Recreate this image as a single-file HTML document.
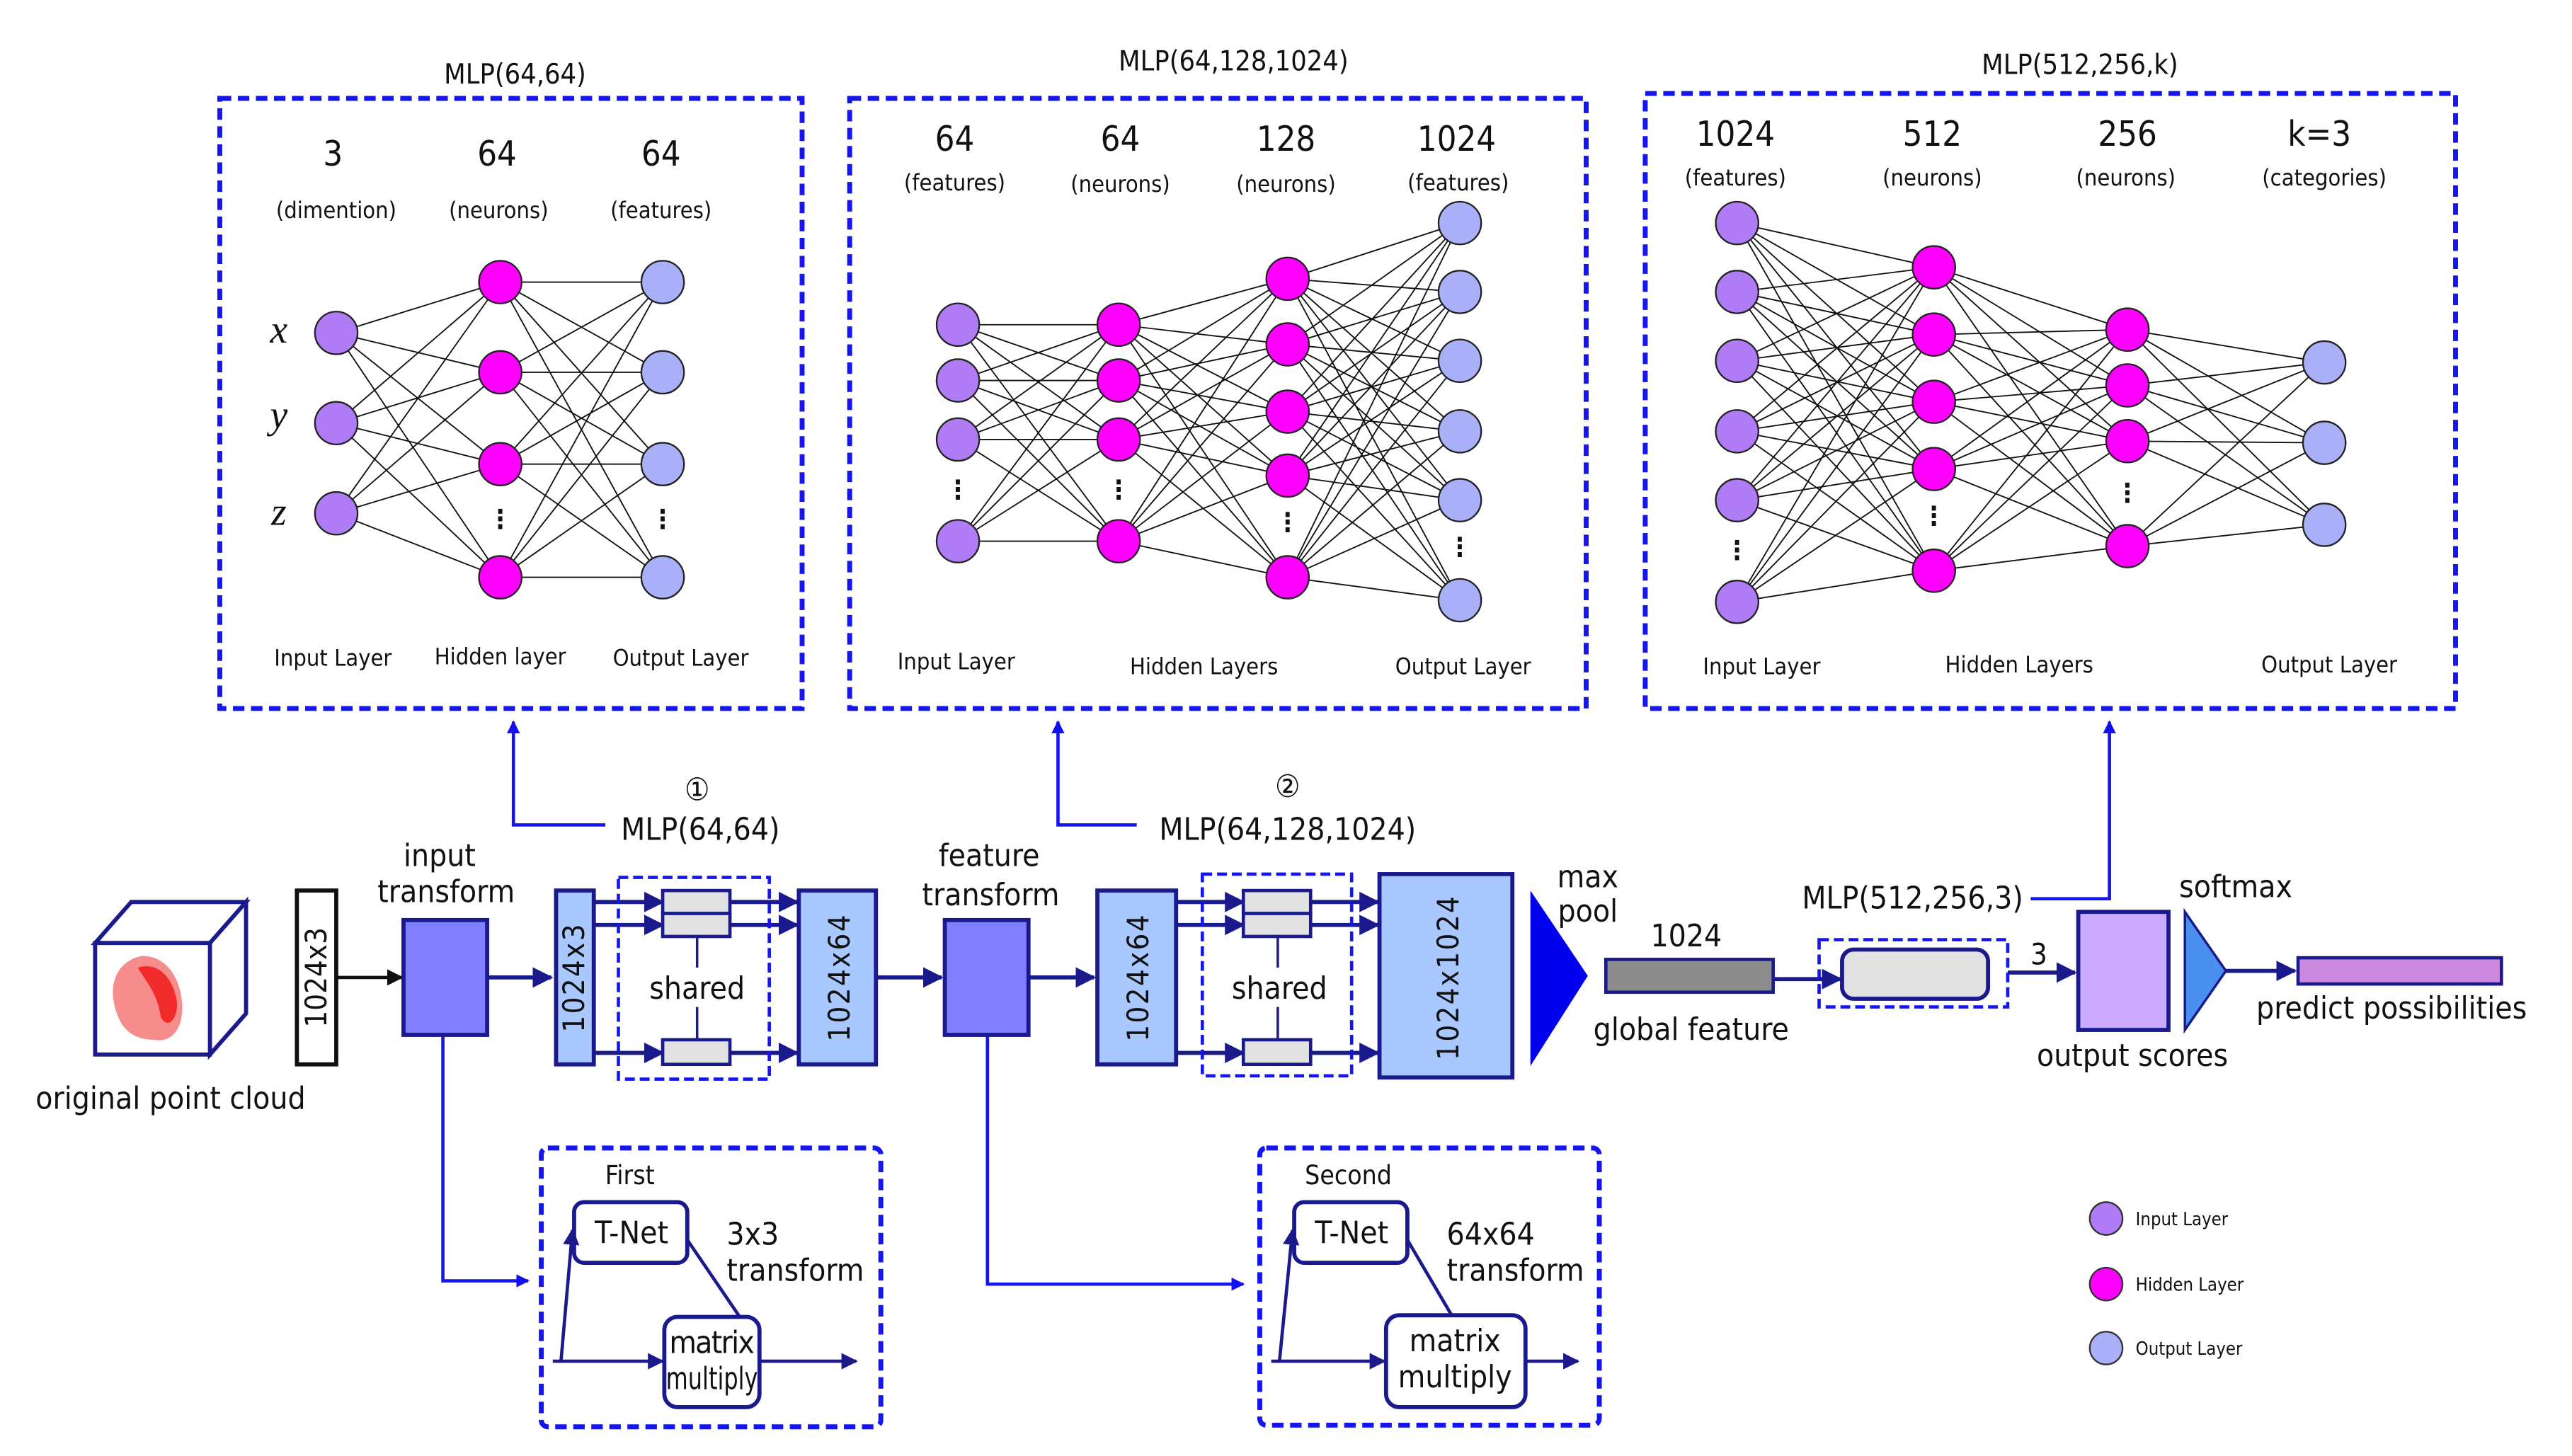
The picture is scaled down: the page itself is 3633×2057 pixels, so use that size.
<!DOCTYPE html>
<html><head><meta charset="utf-8"><style>
html,body{margin:0;padding:0;background:#fff}
svg{display:block}
text{font-family:"DejaVu Sans Condensed","DejaVu Sans","Liberation Sans",sans-serif;fill:#111}
</style></head><body>
<svg width="3633" height="2057" viewBox="0 0 1568 887.8" xmlns="http://www.w3.org/2000/svg">
<defs>
<marker id="an" viewBox="0 0 10 10" refX="9" refY="5" markerWidth="5" markerHeight="5" orient="auto"><path d="M0,0L10,5L0,10z" fill="#1a1a8c"/></marker>
<marker id="ab" viewBox="0 0 10 10" refX="9" refY="5" markerWidth="5" markerHeight="5" orient="auto"><path d="M0,0L10,5L0,10z" fill="#111"/></marker>
<marker id="abl" viewBox="0 0 10 10" refX="9" refY="5" markerWidth="4" markerHeight="4" orient="auto"><path d="M0,0L10,5L0,10z" fill="#1010f0"/></marker>
</defs>
<g fill="none" stroke="#111" stroke-width="0.8">
<path d="M205 203L305 172M205 203L305 227M205 203L305 283M205 203L305 352M205 258L305 172M205 258L305 227M205 258L305 283M205 258L305 352M205 313L305 172M205 313L305 227M205 313L305 283M205 313L305 352"/>
<path d="M305 172L404 172M305 172L404 227M305 172L404 283M305 172L404 352M305 227L404 172M305 227L404 227M305 227L404 283M305 227L404 352M305 283L404 172M305 283L404 227M305 283L404 283M305 283L404 352M305 352L404 172M305 352L404 227M305 352L404 283M305 352L404 352"/>
<path d="M584 198L682 198M584 198L682 232M584 198L682 268M584 198L682 330M584 232L682 198M584 232L682 232M584 232L682 268M584 232L682 330M584 268L682 198M584 268L682 232M584 268L682 268M584 268L682 330M584 330L682 198M584 330L682 232M584 330L682 268M584 330L682 330"/>
<path d="M682 198L785 170M682 198L785 210M682 198L785 251M682 198L785 290M682 198L785 352M682 232L785 170M682 232L785 210M682 232L785 251M682 232L785 290M682 232L785 352M682 268L785 170M682 268L785 210M682 268L785 251M682 268L785 290M682 268L785 352M682 330L785 170M682 330L785 210M682 330L785 251M682 330L785 290M682 330L785 352"/>
<path d="M785 170L890 136M785 170L890 178M785 170L890 220M785 170L890 263M785 170L890 305M785 170L890 366M785 210L890 136M785 210L890 178M785 210L890 220M785 210L890 263M785 210L890 305M785 210L890 366M785 251L890 136M785 251L890 178M785 251L890 220M785 251L890 263M785 251L890 305M785 251L890 366M785 290L890 136M785 290L890 178M785 290L890 220M785 290L890 263M785 290L890 305M785 290L890 366M785 352L890 136M785 352L890 178M785 352L890 220M785 352L890 263M785 352L890 305M785 352L890 366"/>
<path d="M1059 136L1179 163M1059 136L1179 204M1059 136L1179 245M1059 136L1179 286M1059 136L1179 348M1059 178L1179 163M1059 178L1179 204M1059 178L1179 245M1059 178L1179 286M1059 178L1179 348M1059 220L1179 163M1059 220L1179 204M1059 220L1179 245M1059 220L1179 286M1059 220L1179 348M1059 263L1179 163M1059 263L1179 204M1059 263L1179 245M1059 263L1179 286M1059 263L1179 348M1059 305L1179 163M1059 305L1179 204M1059 305L1179 245M1059 305L1179 286M1059 305L1179 348M1059 367L1179 163M1059 367L1179 204M1059 367L1179 245M1059 367L1179 286M1059 367L1179 348"/>
<path d="M1179 163L1297 201M1179 163L1297 235M1179 163L1297 269M1179 163L1297 333M1179 204L1297 201M1179 204L1297 235M1179 204L1297 269M1179 204L1297 333M1179 245L1297 201M1179 245L1297 235M1179 245L1297 269M1179 245L1297 333M1179 286L1297 201M1179 286L1297 235M1179 286L1297 269M1179 286L1297 333M1179 348L1297 201M1179 348L1297 235M1179 348L1297 269M1179 348L1297 333"/>
<path d="M1297 201L1417 221M1297 201L1417 270M1297 201L1417 320M1297 235L1417 221M1297 235L1417 270M1297 235L1417 320M1297 269L1417 221M1297 269L1417 270M1297 269L1417 320M1297 333L1417 221M1297 333L1417 270M1297 333L1417 320"/>
</g>
<g stroke="#222" stroke-width="1">
<g fill="#b07cf5">
<circle cx="205" cy="203" r="13"/><circle cx="205" cy="258" r="13"/><circle cx="205" cy="313" r="13"/>
<circle cx="584" cy="198" r="13"/><circle cx="584" cy="232" r="13"/><circle cx="584" cy="268" r="13"/><circle cx="584" cy="330" r="13"/>
<circle cx="1059" cy="136" r="13"/><circle cx="1059" cy="178" r="13"/><circle cx="1059" cy="220" r="13"/><circle cx="1059" cy="263" r="13"/><circle cx="1059" cy="305" r="13"/><circle cx="1059" cy="367" r="13"/>
</g>
<g fill="#ff00ff">
<circle cx="305" cy="172" r="13"/><circle cx="305" cy="227" r="13"/><circle cx="305" cy="283" r="13"/><circle cx="305" cy="352" r="13"/>
<circle cx="682" cy="198" r="13"/><circle cx="682" cy="232" r="13"/><circle cx="682" cy="268" r="13"/><circle cx="682" cy="330" r="13"/>
<circle cx="785" cy="170" r="13"/><circle cx="785" cy="210" r="13"/><circle cx="785" cy="251" r="13"/><circle cx="785" cy="290" r="13"/><circle cx="785" cy="352" r="13"/>
<circle cx="1179" cy="163" r="13"/><circle cx="1179" cy="204" r="13"/><circle cx="1179" cy="245" r="13"/><circle cx="1179" cy="286" r="13"/><circle cx="1179" cy="348" r="13"/>
<circle cx="1297" cy="201" r="13"/><circle cx="1297" cy="235" r="13"/><circle cx="1297" cy="269" r="13"/><circle cx="1297" cy="333" r="13"/>
</g>
<g fill="#a9b0f7">
<circle cx="404" cy="172" r="13"/><circle cx="404" cy="227" r="13"/><circle cx="404" cy="283" r="13"/><circle cx="404" cy="352" r="13"/>
<circle cx="890" cy="136" r="13"/><circle cx="890" cy="178" r="13"/><circle cx="890" cy="220" r="13"/><circle cx="890" cy="263" r="13"/><circle cx="890" cy="305" r="13"/><circle cx="890" cy="366" r="13"/>
<circle cx="1417" cy="221" r="13"/><circle cx="1417" cy="270" r="13"/><circle cx="1417" cy="320" r="13"/>
</g>
</g>
<g font-size="16" text-anchor="middle" font-weight="bold">
<text x="305" y="322">⋮</text><text x="404" y="322">⋮</text>
<text x="584" y="304">⋮</text><text x="682" y="304">⋮</text><text x="785" y="324">⋮</text><text x="890" y="339">⋮</text>
<text x="1059" y="341">⋮</text><text x="1179" y="320">⋮</text><text x="1297" y="306">⋮</text>
</g>

<g fill="none" stroke="#1515f0" stroke-width="3" stroke-dasharray="7,4">
<rect x="134" y="60" width="355" height="372"/>
<rect x="518" y="60" width="449" height="372"/>
<rect x="1003" y="57" width="494" height="375"/>
</g>
<g font-size="17" text-anchor="middle">
<text x="314" y="51">MLP(64,64)</text>
<text x="752" y="43">MLP(64,128,1024)</text>
<text x="1268" y="45">MLP(512,256,k)</text>
</g>
<g font-size="21" text-anchor="middle">
<text x="203" y="101">3</text><text x="303" y="101">64</text><text x="403" y="101">64</text>
<text x="582" y="92">64</text><text x="683" y="92">64</text><text x="784" y="92">128</text><text x="888" y="92">1024</text>
<text x="1058" y="89">1024</text><text x="1178" y="89">512</text><text x="1297" y="89">256</text><text x="1414" y="89">k=3</text>
</g>
<g font-size="14" text-anchor="middle">
<text x="205" y="133">(dimention)</text><text x="304" y="133">(neurons)</text><text x="403" y="133">(features)</text>
<text x="582" y="116">(features)</text><text x="683" y="117">(neurons)</text><text x="784" y="117">(neurons)</text><text x="889" y="116">(features)</text>
<text x="1058" y="113">(features)</text><text x="1178" y="113">(neurons)</text><text x="1296" y="113">(neurons)</text><text x="1417" y="113">(categories)</text>
<text x="203" y="406">Input Layer</text><text x="305" y="405">Hidden layer</text><text x="415" y="406">Output Layer</text>
<text x="583" y="408">Input Layer</text><text x="734" y="411">Hidden Layers</text><text x="892" y="411">Output Layer</text>
<text x="1074" y="411">Input Layer</text><text x="1231" y="410">Hidden Layers</text><text x="1420" y="410">Output Layer</text>
</g>
<g font-size="24" font-style="italic" text-anchor="middle">
<text x="170" y="209" style="font-family:'Liberation Serif',serif">x</text>
<text x="170" y="261" style="font-family:'Liberation Serif',serif">y</text>
<text x="170" y="320" style="font-family:'Liberation Serif',serif">z</text>
</g>

<g stroke="#1515f0" stroke-width="2" fill="none">
<path d="M369,503H313V440" marker-end="url(#abl)"/>
<path d="M693,503H645V440" marker-end="url(#abl)"/>
<path d="M1238,548H1286V440" marker-end="url(#abl)"/>
<path d="M270,631V781H322" marker-end="url(#abl)"/>
<path d="M602,631V783H758" marker-end="url(#abl)"/>
</g>
<g font-size="19" text-anchor="middle">
<text x="425" y="488">①</text><text x="427" y="512">MLP(64,64)</text>
<text x="785" y="486">②</text><text x="785" y="512">MLP(64,128,1024)</text>
<text x="1166" y="554">MLP(512,256,3)</text>
</g>

<g stroke="#1a1a8c" stroke-width="2.5" fill="#fff">
<path d="M58,575L80,550H150L128,575z"/>
<path d="M128,575L150,550V618L128,643z"/>
<rect x="58" y="575" width="70" height="68"/>
</g>
<g fill="#e00">
<path d="M72,620C64,600 72,586 86,583C100,582 110,595 111,612C112,628 104,636 94,634C84,634 76,630 72,620z" opacity="0.45"/>
<path d="M84,590C96,586 106,596 108,612C108,622 102,628 98,620C96,606 90,600 84,590z" opacity="0.7"/>
</g>
<text x="104" y="676" font-size="19" text-anchor="middle">original point cloud</text>

<rect x="181" y="543" width="24" height="106" fill="#fff" stroke="#111" stroke-width="2.5"/>
<text transform="translate(199,596) rotate(-90)" font-size="18" text-anchor="middle">1024x3</text>
<line x1="205" y1="596" x2="245" y2="596" stroke="#111" stroke-width="2" marker-end="url(#ab)"/>
<text x="268" y="528" font-size="19" text-anchor="middle">input</text>
<text x="272" y="550" font-size="19" text-anchor="middle">transform</text>
<rect x="246" y="561" width="51" height="70" fill="#7f7fff" stroke="#1a1a8c" stroke-width="2.5"/>
<g stroke="#1a1a8c" stroke-width="2.5" fill="none">
<line x1="297" y1="596" x2="336" y2="596" marker-end="url(#an)"/>
<line x1="534" y1="596" x2="574" y2="596" marker-end="url(#an)"/>
<line x1="627" y1="596" x2="667" y2="596" marker-end="url(#an)"/>
<line x1="362" y1="550" x2="404" y2="550" marker-end="url(#an)"/><line x1="445" y1="550" x2="486" y2="550" marker-end="url(#an)"/>
<line x1="362" y1="564" x2="404" y2="564" marker-end="url(#an)"/><line x1="445" y1="564" x2="486" y2="564" marker-end="url(#an)"/>
<line x1="362" y1="642" x2="404" y2="642" marker-end="url(#an)"/><line x1="445" y1="642" x2="486" y2="642" marker-end="url(#an)"/>
<line x1="717" y1="550" x2="758" y2="550" marker-end="url(#an)"/><line x1="799" y1="550" x2="840" y2="550" marker-end="url(#an)"/>
<line x1="717" y1="564" x2="758" y2="564" marker-end="url(#an)"/><line x1="799" y1="564" x2="840" y2="564" marker-end="url(#an)"/>
<line x1="717" y1="642" x2="758" y2="642" marker-end="url(#an)"/><line x1="799" y1="642" x2="840" y2="642" marker-end="url(#an)"/>
<line x1="1081" y1="597" x2="1122" y2="597" marker-end="url(#an)"/>
<line x1="1224" y1="593" x2="1265" y2="593" marker-end="url(#an)"/>
<line x1="1357" y1="592" x2="1399" y2="592" marker-end="url(#an)"/>
</g>
<g stroke="#1a1a8c" stroke-width="1.5"><line x1="425" y1="571" x2="425" y2="590"/><line x1="425" y1="614" x2="425" y2="634"/>
<line x1="779" y1="571" x2="779" y2="590"/><line x1="779" y1="614" x2="779" y2="634"/></g>
<g fill="#a8c8ff" stroke="#1a1a8c" stroke-width="2.5">
<rect x="339" y="543" width="23" height="106"/>
<rect x="487" y="543" width="47" height="106"/>
<rect x="669" y="543" width="48" height="106"/>
<rect x="841" y="533" width="81" height="124"/>
</g>
<g fill="#e2e2e2" stroke="#1a1a8c" stroke-width="2">
<rect x="404" y="543" width="41" height="14"/><rect x="404" y="557" width="41" height="14"/><rect x="404" y="634" width="41" height="15"/>
<rect x="758" y="543" width="41" height="14"/><rect x="758" y="557" width="41" height="14"/><rect x="758" y="634" width="41" height="15"/>
</g>
<g fill="none" stroke="#1515f0" stroke-width="2" stroke-dasharray="6,3">
<rect x="377" y="535" width="92" height="123"/>
<rect x="733" y="533" width="91" height="123"/>
<rect x="1109" y="573" width="115" height="41"/>
</g>
<text x="425" y="609" font-size="19" text-anchor="middle">shared</text>
<text x="780" y="609" font-size="19" text-anchor="middle">shared</text>
<g font-size="18" text-anchor="middle" letter-spacing="1">
<text transform="translate(356,596) rotate(-90)">1024x3</text>
<text transform="translate(518,596) rotate(-90)">1024x64</text>
<text transform="translate(700,596) rotate(-90)">1024x64</text>
<text transform="translate(889,596) rotate(-90)">1024x1024</text>
</g>
<text x="603" y="528" font-size="19" text-anchor="middle">feature</text>
<text x="604" y="552" font-size="19" text-anchor="middle">transform</text>
<rect x="576" y="561" width="51" height="70" fill="#7f7fff" stroke="#1a1a8c" stroke-width="2.5"/>
<path d="M933,543L968,595L933,650z" fill="#0000ee"/>
<text x="968" y="541" font-size="19" text-anchor="middle">max</text>
<text x="968" y="562" font-size="19" text-anchor="middle">pool</text>
<text x="1028" y="577" font-size="19" text-anchor="middle">1024</text>
<rect x="979" y="585" width="102" height="20" fill="#8c8c8c" stroke="#1a1a8c" stroke-width="2"/>
<text x="1031" y="634" font-size="19" text-anchor="middle">global feature</text>
<rect x="1123" y="579" width="89" height="30" rx="7" fill="#e2e2e2" stroke="#1a1a8c" stroke-width="2.5"/>
<text x="1243" y="588" font-size="18" text-anchor="middle">3</text>
<rect x="1267" y="556" width="55" height="72" fill="#ccaaff" stroke="#1a1a8c" stroke-width="2.5"/>
<text x="1300" y="650" font-size="19" text-anchor="middle">output scores</text>
<path d="M1332,556L1357,592L1332,628z" fill="#4a90f0" stroke="#1a1a8c" stroke-width="1.5"/>
<text x="1363" y="547" font-size="19" text-anchor="middle">softmax</text>
<rect x="1401" y="584" width="124" height="16" fill="#cc88dd" stroke="#1a1a8c" stroke-width="2"/>
<text x="1458" y="621" font-size="19" text-anchor="middle">predict possibilities</text>

<g fill="none" stroke="#1515f0" stroke-width="3" stroke-dasharray="7,4">
<rect x="330" y="700" width="207" height="170" rx="4"/>
<rect x="768" y="700" width="207" height="169" rx="4"/>
</g>
<g fill="#fff" stroke="#1a1a8c" stroke-width="2.5">
<rect x="350" y="733" width="69" height="37" rx="6"/>
<rect x="405" y="803" width="58" height="55" rx="8"/>
<rect x="789" y="733" width="69" height="37" rx="6"/>
<rect x="845" y="802" width="85" height="56" rx="8"/>
</g>
<g stroke="#1a1a8c" stroke-width="2" fill="none">
<line x1="337" y1="830" x2="404" y2="830" marker-end="url(#an)"/>
<line x1="342" y1="830" x2="349" y2="750" marker-end="url(#an)"/>
<line x1="419" y1="756" x2="451" y2="803"/>
<line x1="463" y1="830" x2="522" y2="830" marker-end="url(#an)"/>
<line x1="775" y1="830" x2="844" y2="830" marker-end="url(#an)"/>
<line x1="780" y1="830" x2="788" y2="750" marker-end="url(#an)"/>
<line x1="858" y1="756" x2="885" y2="802"/>
<line x1="930" y1="830" x2="962" y2="830" marker-end="url(#an)"/>
</g>
<g font-size="19" text-anchor="middle">
<text x="385" y="758">T-Net</text><text x="434" y="825" textLength="52">matrix</text><text x="434" y="847" textLength="56" lengthAdjust="spacingAndGlyphs">multiply</text>
<text x="824" y="758">T-Net</text><text x="887" y="824">matrix</text><text x="887" y="846">multiply</text>
</g>
<g font-size="19">
<text x="443" y="759">3x3</text><text x="443" y="781">transform</text>
<text x="882" y="759">64x64</text><text x="882" y="781">transform</text>
</g>
<text x="384" y="722" font-size="16" text-anchor="middle">First</text>
<text x="822" y="722" font-size="16" text-anchor="middle">Second</text>

<g stroke="#333" stroke-width="1">
<circle cx="1284" cy="743" r="10" fill="#b07cf5"/>
<circle cx="1284" cy="783" r="10" fill="#ff00ff"/>
<circle cx="1284" cy="822" r="10" fill="#a9b0f7"/>
</g>
<g font-size="11"><text x="1302" y="747">Input Layer</text><text x="1302" y="787">Hidden Layer</text><text x="1302" y="826">Output Layer</text></g>
</svg>
</body></html>
